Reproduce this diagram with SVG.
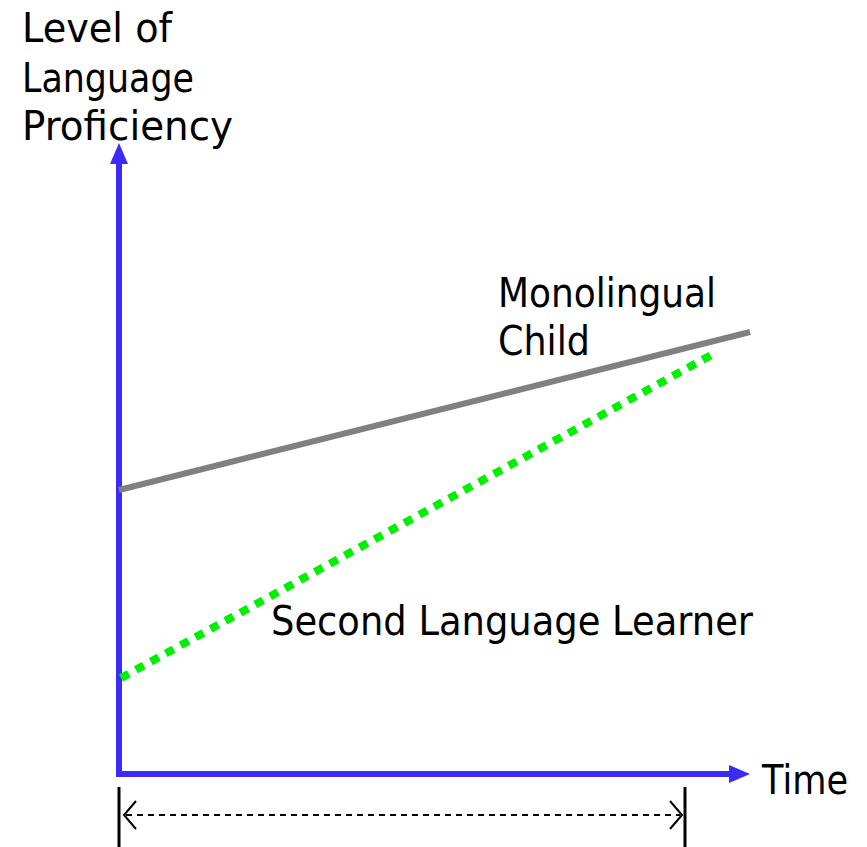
<svg xmlns="http://www.w3.org/2000/svg" width="867" height="847" viewBox="0 0 867 847">
<style>
text{font-family:"Comic Sans MS","DejaVu Sans","Noto Sans",sans-serif;font-size:40px;fill:#000}
.axis{stroke:#3b2bf5;stroke-width:6;fill:none}
.dim{stroke:#000;fill:none}
</style>
<rect width="867" height="847" fill="#fff"/>
<g id="axes">
<line class="axis" x1="119" y1="160" x2="119" y2="774"/>
<line class="axis" x1="116" y1="774" x2="734" y2="774"/>
<polygon points="119,143 110,164 128,164" fill="#3b2bf5"/>
<polygon points="750,774 729,765 729,783" fill="#3b2bf5"/>
</g>
<g id="labels">
<text x="22" y="42" textLength="150" lengthAdjust="spacingAndGlyphs">Level of</text>
<text x="22" y="92" textLength="172" lengthAdjust="spacingAndGlyphs">Language</text>
<text x="22" y="140" textLength="211" lengthAdjust="spacingAndGlyphs">Proficiency</text>
<text x="762" y="794" textLength="86" lengthAdjust="spacingAndGlyphs">Time</text>
</g>
<g id="connectors">
<line id="monolingual-line" x1="119" y1="490" x2="750" y2="332" stroke="#808080" stroke-width="6"/>
<line id="learner-line" x1="121" y1="678" x2="715" y2="353" stroke="#00f000" stroke-width="8" stroke-dasharray="9 8"/>
</g>
<g id="monolingual">
<text x="498" y="307" textLength="218" lengthAdjust="spacingAndGlyphs">Monolingual</text>
<text x="498" y="355" textLength="92" lengthAdjust="spacingAndGlyphs">Child</text>
</g>
<g id="learner">
<text x="271" y="635" textLength="482" lengthAdjust="spacingAndGlyphs">Second Language Learner</text>
</g>
<g id="span">
<line class="dim" x1="119" y1="787" x2="119" y2="847" style="stroke-width:3"/>
<line class="dim" x1="685" y1="787" x2="685" y2="847" style="stroke-width:3"/>
<line class="dim" x1="126" y1="815" x2="680" y2="815" style="stroke-width:1.8;stroke-dasharray:6 5"/>
<polyline class="dim" points="136,801 124,815 136,829" style="stroke-width:2"/>
<polyline class="dim" points="670,801 682,815 670,829" style="stroke-width:2"/>
</g>
</svg>
